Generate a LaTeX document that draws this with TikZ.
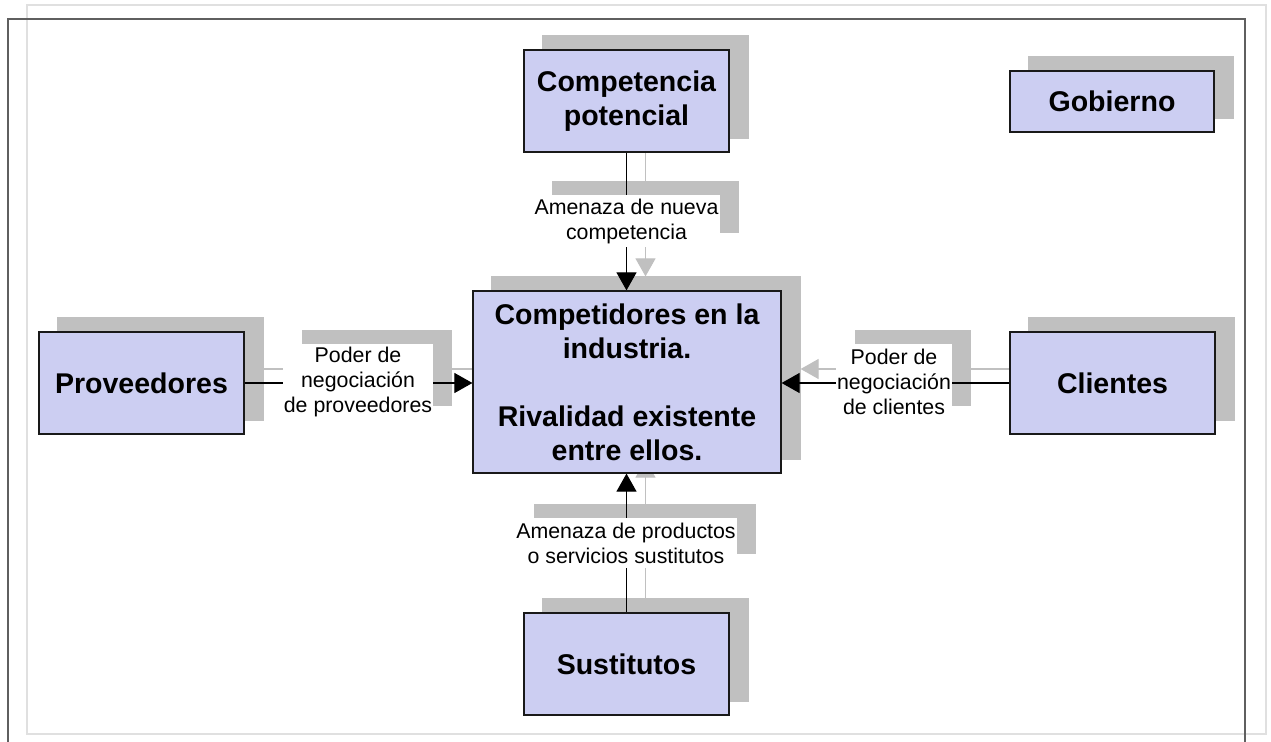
\documentclass[tikz,border=0pt]{standalone}
\usepackage{fontspec}
\setmainfont{Liberation Sans}
\usetikzlibrary{arrows.meta}
\pgfdeclarelayer{shad}
\pgfdeclarelayer{lines}
\pgfsetlayers{shad,lines,main}
\definecolor{boxfill}{RGB}{204,206,242}
\definecolor{shadowgray}{RGB}{192,192,192}
\definecolor{framedark}{RGB}{95,95,95}
\definecolor{framelight}{RGB}{224,224,224}
\newcommand\dropshade[1]{\fill[shadowgray] ([shift={(19,-14)}]#1.south west) rectangle ([shift={(19,-14)}]#1.north east);}
\begin{document}
\begin{tikzpicture}[x=0.75pt,y=-0.75pt,
  box/.style={draw=black!90, line width=0.9pt, fill=boxfill, align=center, inner sep=0pt,
    font=\bfseries\fontsize{21.4}{25.5}\selectfont},
  lbl/.style={fill=white, align=center, inner sep=0pt, font=\fontsize{16}{18.75}\selectfont},
  conn/.style={line width=0.8pt, -{Triangle[width=15pt,length=13.5pt]}},
  shconn/.style={conn, draw=shadowgray, fill=shadowgray},
]
\useasboundingbox (0,0) rectangle (1271,742);

% main boxes
\node[box, minimum width=205*0.75pt, minimum height=102*0.75pt] (comp) at (626.5,101) {Competencia\\potencial};
\node[box, minimum width=205*0.75pt, minimum height=102*0.75pt] (prov) at (141.5,383) {Proveedores};
\node[box, minimum width=205*0.75pt, minimum height=102*0.75pt] (cli) at (1112.5,383) {Clientes};
\node[box, minimum width=205*0.75pt, minimum height=102*0.75pt] (sust) at (626.5,664) {Sustitutos};
\node[box, minimum width=204*0.75pt, minimum height=61*0.75pt] (gob) at (1112,101.5) {Gobierno};
\node[box, minimum width=308*0.75pt, minimum height=182*0.75pt] (cent) at (627,382)
  {Competidores en la\\industria.\\[25.5pt]Rivalidad existente\\entre ellos.};

% labels
\node[lbl, minimum width=187*0.75pt, minimum height=52*0.75pt] (lt) at (626.5,221) {Amenaza de nueva\\competencia};
\node[lbl, minimum width=150*0.75pt, minimum height=76*0.75pt] (ll) at (358,382) {Poder de\\negociación\\de proveedores};
\node[lbl, minimum width=116*0.75pt, minimum height=76*0.75pt] (lr) at (894,382) {Poder de\\negociación\\de clientes};
\node[lbl, minimum width=222*0.75pt, minimum height=50*0.75pt] (lb) at (626,543) {Amenaza de productos\\o servicios sustitutos};

\begin{pgfonlayer}{shad}
  \draw[framelight, line width=1.5pt] (27,5) rectangle (1266,734);
  \draw[framedark, line width=1.2pt] (8,742) -- (8,19) -- (1245,19) -- (1245,742);
  \dropshade{comp}
  \dropshade{prov}
  \dropshade{cli}
  \dropshade{sust}
  \dropshade{gob}
  \dropshade{cent}
  \dropshade{lt}
  \dropshade{ll}
  \dropshade{lr}
  \dropshade{lb}
  % connector shadows
  \draw[shconn] ([shift={(19,-14)}]comp.south) -- ([shift={(19,-14)}]comp.south |- cent.north);
  \draw[shconn] ([shift={(19,-14)}]prov.east) -- ([shift={(19,-14)}]prov.east -| cent.west);
  \draw[shconn] ([shift={(19,-14)}]cli.west) -- ([shift={(19,-14)}]cli.west -| cent.east);
  \draw[shconn] ([shift={(19,-14)}]sust.north) -- ([shift={(19,-14)}]sust.north |- cent.south);
\end{pgfonlayer}

\begin{pgfonlayer}{lines}
  \draw[conn] (comp.south) -- (comp.south |- cent.north);
  \draw[conn] (prov.east) -- (prov.east -| cent.west);
  \draw[conn] (cli.west) -- (cli.west -| cent.east);
  \draw[conn] (sust.north) -- (sust.north |- cent.south);
\end{pgfonlayer}
\end{tikzpicture}
\end{document}
